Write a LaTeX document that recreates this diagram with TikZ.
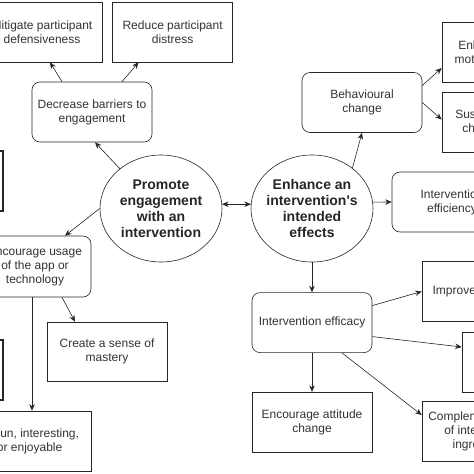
\documentclass[tikz,border=0pt]{standalone}
\usepackage{fontspec}
\setmainfont{Liberation Sans}
\usetikzlibrary{positioning, arrows.meta, shapes.geometric}

\begin{document}
\begin{tikzpicture}[
    x=1pt, y=-1pt,
    node distance=30pt and 10pt,
    box/.style={
      draw=black!85, line width=0.6pt, minimum width=120pt, minimum height=60pt,
      align=center, text=black!80, font=\fontsize{12}{14}\selectfont
    },
    rbox/.style={box, rounded corners=8pt},
    goal/.style={
      draw=black!85, line width=0.6pt, ellipse, minimum width=122pt, minimum height=107pt,
      inner xsep=-3pt, inner ysep=0pt, align=center, text=black!85,
      font=\bfseries\fontsize{14}{16}\selectfont
    },
    arrow/.style={-{Stealth[length=6.5pt, width=5.5pt]}, line width=0.6pt, draw=black!85},
    twoway/.style={arrow, {Stealth[length=6.5pt, width=5.5pt]}-{Stealth[length=6.5pt, width=5.5pt]}}
]

% Frame
\useasboundingbox (0,0) rectangle (474,474);
\fill[white] (0,0) rectangle (474,474);
\clip (0,0) rectangle (474,474);

% Goals
\node[goal] (promote) at (161,208.5) {Promote\\engagement\\with an\\intervention};
\node[goal] (enhance) at (312,208.5) {Enhance an\\intervention\textquotesingle s\\intended\\effects};

% Engagement side
\node[rbox] (barriers) at (92,112) {Decrease barriers to\\engagement};
\node[box] (defens) at (42,32) {Mitigate participant\\defensiveness};
\node[box, right=10pt of defens] (distress) {Reduce participant\\distress};
\node[rbox, minimum width=112pt, minimum height=61pt] (usage) at (35,266.5) {Encourage usage\\of the app or\\technology};
\node[box, minimum height=59pt] (mastery) at (107,351.5) {Create a sense of\\mastery};
\node[box, minimum width=106pt, align=left] (enjoy) at (38,441) {fun, interesting,\\or enjoyable};
\node[box, line width=1.2pt] (edgea) at (-57,181) {};
\node[box, line width=1.2pt] (edgeb) at (-57,370) {};

% Effects side
\node[rbox] (behav) at (362,102.5) {Behavioural\\change};
\node[box, minimum width=80pt] (motiv) at (482,52) {Enhance\\motivation};
\node[box, minimum width=80pt] (sustain) at (482,122.5) {Sustained\\change};
\node[rbox] (effic) at (452,202) {Intervention\\efficiency};
\node[rbox, below=of enhance] (efficacy) {Intervention efficacy};
\node[box, below=39pt of efficacy] (attitude) {Encourage attitude\\change};
\node[box] (improve) at (482,291.5) {Improve outcomes};
\node[box] (boxx) at (522,362) {};
\node[box] (complem) at (482,431) {Complementary use\\of intervention\\ingredients};

% Arrows
\draw[twoway] (promote.4) -- (enhance.176);
\draw[arrow] (promote.136) -- ([xshift=3pt]barriers.south);
\draw[arrow] ([xshift=-30pt]barriers.north) -- ([xshift=8pt]defens.south);
\draw[arrow] ([xshift=30pt]barriers.north) -- ([xshift=-34pt]distress.south);
\draw[arrow] (promote.west) -- ([xshift=30pt]usage.north);
\draw[arrow] ([xshift=27pt]usage.south) -- ([xshift=-32pt]mastery.north);
\draw[arrow] ([xshift=-3pt]usage.south) -- ([xshift=-6pt]enjoy.north);

\draw[arrow] (enhance.45) -- (behav.south);
\draw[arrow] ([yshift=17pt]behav.east) -- ([yshift=-16pt]motiv.west);
\draw[arrow] (behav.east) -- ([yshift=3pt]sustain.west);
\draw[arrow] (enhance.6) -- (effic.west);
\draw[arrow] (enhance) -- (efficacy);
\draw[arrow] ([yshift=17pt]efficacy.east) -- (improve.west);
\draw[arrow] ([yshift=-14pt]efficacy.east) -- ([yshift=15pt]boxx.west);
\draw[arrow] ([xshift=30pt]efficacy.south) -- ([yshift=16pt]complem.west);
\draw[arrow] (efficacy) -- (attitude);

\end{tikzpicture}
\end{document}
